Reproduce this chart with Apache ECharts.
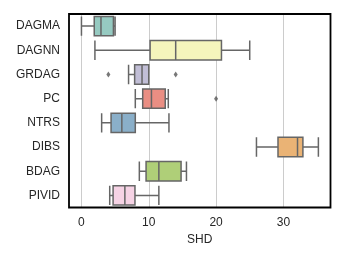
<!DOCTYPE html>
<html>
<head>
<meta charset="utf-8">
<script src="https://cdn.jsdelivr.net/npm/echarts@6/dist/echarts.min.js"></script>
<style>html,body{margin:0;padding:0;background:#fff}#c{width:345px;height:259px}</style>
</head>
<body>
<div id="c"></div>
<script>
const categories = ['DAGMA', 'DAGNN', 'GRDAG', 'PC', 'NTRS', 'DIBS', 'BDAG', 'PIVID'];
const whiskerLow  = [0,    2,    7,   8,    3,    26,   8.6,  4.2];
const q1          = [1.9,  10.2, 7.9, 9.1,  4.4,  29.2, 9.6,  4.7];
const median      = [2.9,  14,   9,   10.4, 6,    32.1, 11.5, 6.45];
const q3          = [4.75, 20.8, 10,  12.45, 8,   32.9, 14.8, 7.95];
const whiskerHigh = [5,    25,   10,  12.9, 13,   35.2, 15.6, 11.5];
const outlierCats = ['GRDAG', 'GRDAG', 'PC'];
const outlierVals = [4, 14, 20];
const tickValues = [0, 10, 20, 30];
const colors = ['#96cac1', '#f5f5bc', '#c1bed6', '#ea8e83', '#8aafc9', '#eab375', '#afcf78', '#f6d3e5'];

const boxData = categories.map((c, i) => ({
  value: [whiskerLow[i], q1[i], median[i], q3[i], whiskerHigh[i]],
  itemStyle: { color: colors[i], borderColor: '#666', borderWidth: 1.5 }
}));
const outData = outlierVals.map((v, i) => [v, outlierCats[i]]);

const chart = echarts.init(document.getElementById('c'), null, { renderer: 'canvas' });
chart.setOption({
  animation: false,
  grid: { left: 69, right: 14.5, top: 14, bottom: 51.5, show: true, borderColor: '#000', borderWidth: 1.8, backgroundColor: 'transparent', z: 5 },
  xAxis: {
    type: 'value', min: -1.85, max: 37, splitNumber: 4,
    name: 'SHD', nameLocation: 'middle', nameGap: 22,
    nameTextStyle: { fontFamily: 'Liberation Sans', fontSize: 12, color: '#262626' },
    axisLine: { show: false }, axisTick: { show: false },
    axisLabel: { fontFamily: 'Liberation Sans', fontSize: 12, color: '#262626', margin: 9,
      showMinLabel: false, showMaxLabel: false,
      formatter: v => (tickValues.indexOf(v) >= 0 ? String(v) : '') },
    splitLine: { show: true, lineStyle: { color: ['rgba(0,0,0,0)', '#cccccc', '#cccccc', '#cccccc', '#cccccc', 'rgba(0,0,0,0)'], width: 1 } }
  },
  yAxis: {
    type: 'category', data: categories, inverse: true,
    axisLine: { show: false }, axisTick: { show: false },
    axisLabel: { fontFamily: 'Liberation Sans', fontSize: 12, color: '#262626', margin: 9 },
    splitLine: { show: false }
  },
  series: [
    { type: 'boxplot', data: boxData, boxWidth: [19.4, 19.4], silent: true },
    { type: 'scatter', data: outData, symbol: 'diamond', symbolSize: [4, 6], silent: true,
      itemStyle: { color: '#555' } }
  ]
});
</script>
</body>
</html>
